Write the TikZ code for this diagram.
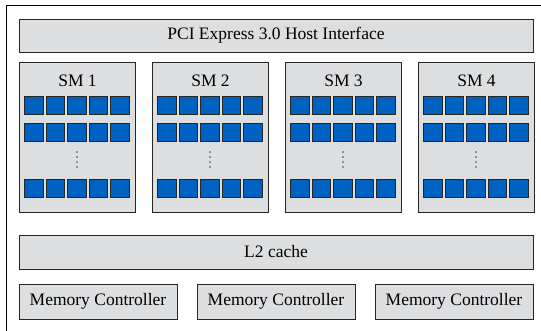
\documentclass[tikz,border=0pt]{standalone}
\usepackage{fontspec}
\setmainfont{Liberation Serif}
\usepackage{tikz}
\usetikzlibrary{positioning}

\definecolor{boxgray}{RGB}{221,222,224}
\definecolor{coreblue}{RGB}{0,98,192}

\begin{document}
\begin{tikzpicture}[x=1pt,y=-1pt,
  unit/.style={draw=black!85, fill=boxgray, line width=1pt, inner sep=0pt,
    font=\fontsize{17.5}{20}\selectfont},
  core/.style={draw=black!85, fill=coreblue, line width=0.9pt,
    minimum size=18.5pt, inner sep=0pt},
  smname/.style={inner sep=0pt, font=\fontsize{17.5}{20}\selectfont}]

  \useasboundingbox (0,0) rectangle (541,330);
  \draw[line width=0.8pt] (6,5) rectangle (560,345);

  \node[unit, minimum width=514pt, minimum height=33pt] (pcie) at (276,35.5)
    {PCI Express 3.0 Host Interface};

  % streaming multiprocessors
  \foreach \i in {1,...,4} {
    \node[unit, anchor=north west, minimum width=116pt, minimum height=150pt]
      (sm\i) at ({19+133*(\i-1)},62) {};
    \node[smname, below=12.5pt of sm\i.north] (smname\i) {SM \i};
    \foreach \j in {1,...,5} {
      \node[core] (c\i-1-\j) at ({77+133*(\i-1)+21.5*(\j-3)},105.5) {};
      \node[core] (c\i-2-\j) at ({77+133*(\i-1)+21.5*(\j-3)},132.5) {};
      \node[core] (c\i-3-\j) at ({77+133*(\i-1)+21.5*(\j-3)},188.5) {};
    }
    \foreach \d in {0,...,3}
      \fill[black!75] ({77+133*(\i-1)},{152+5*\d}) circle (0.9pt);
  }

  \node[unit, minimum width=514pt, minimum height=34pt] (l2) at (276,252)
    {L2 cache};

  \node[unit, minimum width=158pt, minimum height=35pt] (mc1) at (98,301.5)
    {Memory Controller};
  \node[unit, minimum width=158pt, minimum height=35pt] (mc2) at (276,301.5)
    {Memory Controller};
  \node[unit, minimum width=158pt, minimum height=35pt] (mc3) at (454,301.5)
    {Memory Controller};

\end{tikzpicture}
\end{document}
